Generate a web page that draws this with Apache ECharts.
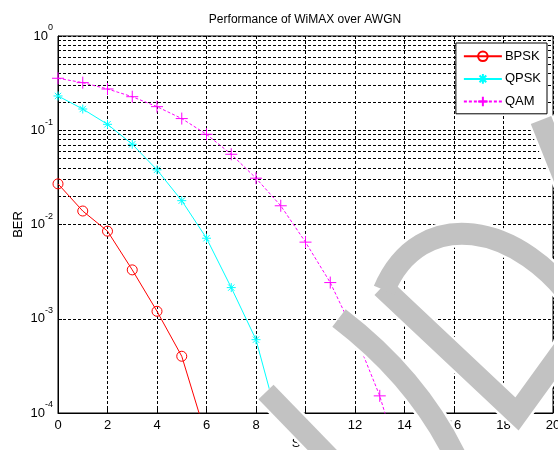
<!DOCTYPE html>
<html>
<head>
<meta charset="utf-8">
<script src="https://cdn.jsdelivr.net/npm/echarts@6/dist/echarts.min.js"></script>
<style>
  html, body { margin: 0; padding: 0; background: #fff; }
  #chart { width: 558px; height: 450px; }
</style>
</head>
<body>
<div id="chart"></div>
<script>
// data
const snrBpsk = [0, 1, 2, 3, 4, 5, 6];
const berBpsk = [0.027, 0.0139, 0.0085, 0.0033, 0.0012, 0.0004, 0.000055];
const snrQpsk = [0, 1, 2, 3, 4, 5, 6, 7, 8, 9];
const berQpsk = [0.231, 0.168, 0.1156, 0.071, 0.038, 0.0179, 0.00715, 0.00214, 0.0006, 0.000064];
const snrQam = [0, 1, 2, 3, 4, 5, 6, 7, 8, 9, 10, 11, 12, 13, 14];
const berQam = [0.356, 0.32, 0.274, 0.227, 0.178, 0.133, 0.0906, 0.0556, 0.031, 0.0158, 0.0065, 0.00242, 0.00068, 0.000152, 0.00002];
const seriesNames = ["BPSK", "QPSK", "QAM"];
const decades = [-4, -3, -2, -1];
const minorSteps = [2, 3, 4, 5, 6, 7, 8, 9];

const FONT = '"Liberation Sans", Arial, sans-serif';

function pairs(xs, ys) {
  return xs.map((x, i) => [x, ys[i]]);
}

// minor log grid lines (2..9 in each decade), drawn through the y scale
const minorLines = [];
decades.forEach(d => {
  minorSteps.forEach(m => {
    minorLines.push({ yAxis: m * Math.pow(10, d) });
  });
});

const gridDash = { color: "#000", width: 1, type: [3, 2] };

// gray "WiMAX" watermark strokes over the plot (white outline under gray)
const wmShapes = [
  { type: "line", shape: { x1: 266, y1: 392, x2: 330, y2: 458 }, w: 21 },
  { type: "bezierCurve", shape: { x1: 339, y1: 318, cpx1: 420, cpy1: 380, x2: 458, y2: 462 }, w: 22 },
  { type: "polyline", shape: { points: [[382, 287], [517, 414], [572, 338]] }, w: 22 },
  { type: "bezierCurve", shape: { x1: 384, y1: 290, cpx1: 420, cpy1: 205, cpx2: 520, cpy2: 220, x2: 580, y2: 310 }, w: 22 },
  { type: "line", shape: { x1: 541, y1: 120, x2: 575, y2: 205 }, w: 22 }
];
const graphicEls = [];
wmShapes.forEach(s => {
  graphicEls.push({
    type: s.type, shape: s.shape, z: 100, silent: true,
    style: { stroke: "#fff", lineWidth: s.w + 5, fill: null, lineCap: "butt", lineJoin: "miter" }
  });
});
wmShapes.forEach(s => {
  graphicEls.push({
    type: s.type, shape: s.shape, z: 101, silent: true,
    style: { stroke: "#c2c2c2", lineWidth: s.w, fill: null, lineCap: "butt", lineJoin: "miter" }
  });
});
// the source image is cut just right of the box
graphicEls.push({ type: "rect", z: 102, silent: true, shape: { x: 554, y: 0, width: 10, height: 411 }, style: { fill: "#fff" } });

const chart = echarts.init(document.getElementById("chart"));
chart.setOption({
  animation: false,
  backgroundColor: "#fff",
  textStyle: { fontFamily: FONT },
  title: {
    text: "Performance of WiMAX over AWGN",
    left: 305,
    top: 14,
    padding: 0,
    textAlign: "center",
    textStyle: { fontFamily: FONT, fontSize: 12, fontWeight: "normal", color: "#000" }
  },
  grid: {
    left: 58, top: 36, right: 5, bottom: 37,
    outerBoundsMode: "none",
    containLabel: false,
    show: true, borderColor: "#000", borderWidth: 1, backgroundColor: "#fff"
  },
  legend: {
    data: [
      { name: "BPSK" },
      { name: "QPSK" },
      { name: "QAM", lineStyle: { type: [3, 2] } }
    ],
    orient: "vertical",
    right: 11,
    top: 43,
    padding: [6, 6, 5, 7],
    itemWidth: 38,
    itemHeight: 12,
    itemGap: 8,
    backgroundColor: "#fff",
    borderColor: "#000",
    borderWidth: 1,
    borderRadius: 0,
    textStyle: { fontFamily: FONT, fontSize: 13, color: "#000", padding: [0, 0, 0, -2] }
  },
  xAxis: {
    type: "value",
    min: 0, max: 20, interval: 2,
    name: "SNR",
    nameLocation: "middle",
    nameGap: 24,
    nameMoveOverlap: false,
    nameTextStyle: { fontFamily: FONT, fontSize: 13, color: "#000" },
    axisLine: { lineStyle: { color: "#000", width: 1 } },
    axisTick: { inside: true, length: 4, lineStyle: { color: "#000" } },
    axisLabel: { fontFamily: FONT, fontSize: 13, color: "#000", margin: 6 },
    splitLine: { show: true, lineStyle: gridDash }
  },
  yAxis: {
    type: "log",
    logBase: 10,
    min: 0.0001, max: 1, interval: 1,
    name: "BER",
    nameLocation: "middle",
    nameRotate: 90,
    nameGap: 33,
    nameMoveOverlap: false,
    nameTextStyle: { fontFamily: FONT, fontSize: 13, color: "#000" },
    axisLine: { lineStyle: { color: "#000", width: 1 } },
    axisTick: { inside: true, length: 4, lineStyle: { color: "#000" } },
    axisLabel: {
      margin: 5,
      formatter: function (v) {
        const e = Math.round(Math.log10(v));
        return "{b|10}{s|" + e + "}";
      },
      rich: {
        b: { fontFamily: FONT, fontSize: 13, color: "#000", padding: [6, 0, 6, 0], verticalAlign: "middle" },
        s: { fontFamily: FONT, fontSize: 9, color: "#000", verticalAlign: "top" }
      }
    },
    splitLine: { show: true, lineStyle: gridDash }
  },
  series: [
    {
      name: "BPSK",
      type: "line",
      data: pairs(snrBpsk, berBpsk),
      symbol: "circle",
      symbolSize: 10,
      lineStyle: { color: "#ff0000", width: 1 },
      itemStyle: { color: "none", borderColor: "#ff0000", borderWidth: 1 },
      z: 5,
      markLine: {
        silent: true,
        symbol: ["none", "none"],
        label: { show: false },
        lineStyle: gridDash,
        emphasis: { disabled: true },
        z: 1,
        data: minorLines
      }
    },
    {
      name: "QPSK",
      type: "line",
      data: pairs(snrQpsk, berQpsk),
      symbol: "path://M5,0L5,10M0,5L10,5M1.5,1.5L8.5,8.5M8.5,1.5L1.5,8.5",
      symbolSize: 9,
      lineStyle: { color: "#00ffff", width: 1 },
      itemStyle: { color: "none", borderColor: "#00ffff", borderWidth: 1 },
      z: 5
    },
    {
      name: "QAM",
      type: "line",
      data: pairs(snrQam, berQam),
      symbol: "path://M5,0L5,10M0,5L10,5",
      symbolSize: 12,
      lineStyle: { color: "#ff00ff", width: 1, type: [3, 2] },
      itemStyle: { color: "none", borderColor: "#ff00ff", borderWidth: 1 },
      z: 5
    }
  ],
  graphic: { elements: graphicEls }
});
</script>
</body>
</html>
